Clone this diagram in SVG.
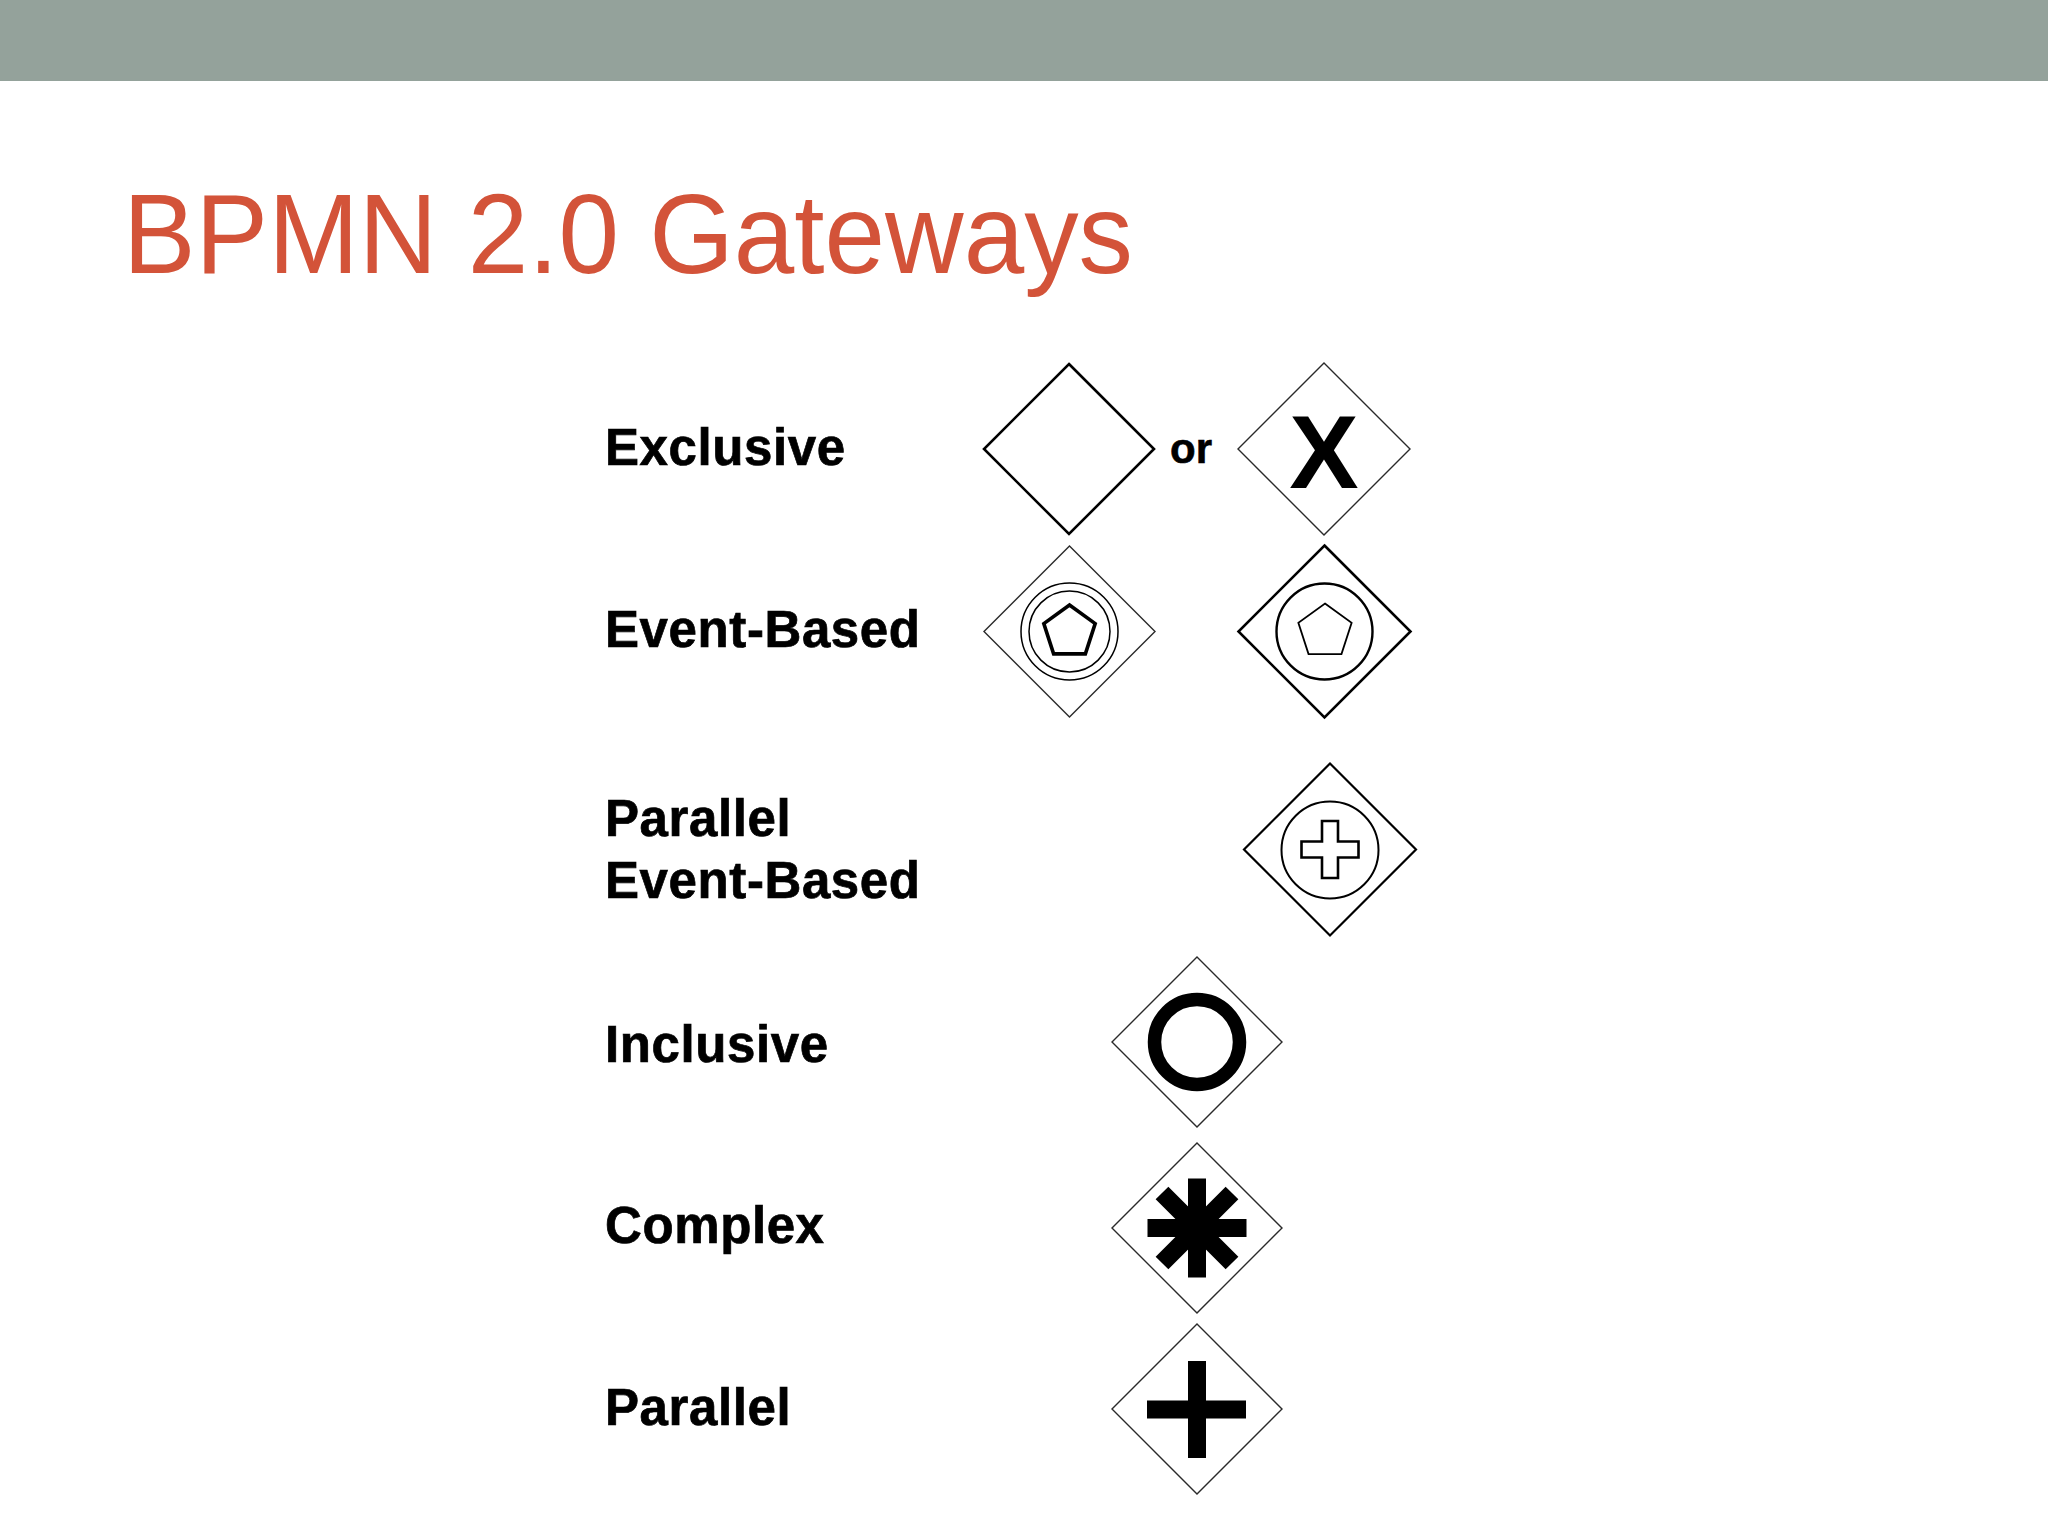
<svg xmlns="http://www.w3.org/2000/svg" width="2048" height="1536" viewBox="0 0 2048 1536">
  <style>
    .lbl { font-family: "Liberation Sans", Arial, Helvetica, sans-serif; font-weight: bold; font-size: 51px; letter-spacing: 0.6px; fill: #000; stroke: #000; stroke-width: 0.7; }
    .thin { fill: #fff; stroke: #2a2a2a; stroke-width: 1.4; }
    .thick { fill: #fff; stroke: #000; stroke-width: 2.6; }
    .ln { fill: none; stroke: #000; }
    .bar { fill: none; stroke: #000; stroke-width: 18; stroke-linecap: butt; }
  </style>
  <rect x="0" y="0" width="2048" height="1536" fill="#ffffff"/>
  <rect id="band" x="0" y="0" width="2048" height="81" fill="#94A29B"/>
  <text id="title" x="123" y="273" font-family="'Liberation Sans', Arial, Helvetica, sans-serif" font-size="114" fill="#D35339" textLength="1010" lengthAdjust="spacingAndGlyphs">BPMN 2.0 Gateways</text>

  <g id="labels">
    <text class="lbl" x="605" y="465">Exclusive</text>
    <text class="lbl" x="605" y="647">Event-Based</text>
    <text class="lbl" x="605" y="836">Parallel</text>
    <text class="lbl" x="605" y="898">Event-Based</text>
    <text class="lbl" x="605" y="1062">Inclusive</text>
    <text class="lbl" x="605" y="1243">Complex</text>
    <text class="lbl" x="605" y="1425">Parallel</text>
  </g>

  <g id="exclusive-plain">
    <polygon class="thick" points="1069,364 1154,449 1069,534 984,449"/>
  </g>
  <text id="or" x="1170" y="463" font-family="'Liberation Sans', Arial, sans-serif" font-weight="bold" font-size="42" fill="#000" stroke="#000" stroke-width="0.6">or</text>
  <g id="exclusive-x">
    <polygon class="thin" points="1324,363 1410,449 1324,535 1238,449"/>
    <text x="1324" y="488" text-anchor="middle" font-family="'Liberation Sans', Arial, sans-serif" font-weight="bold" font-size="104" fill="#000">X</text>
  </g>

  <g id="event-based-1">
    <polygon class="thin" points="1069.5,546 1155,631.5 1069.5,717 984,631.5"/>
    <circle class="ln" cx="1069.5" cy="631.5" r="48.5" stroke-width="1.5"/>
    <circle class="ln" cx="1069.5" cy="631.5" r="40.5" stroke-width="1.5"/>
    <polygon class="ln" stroke-width="3.6" stroke-linejoin="miter" points="1069.5,605 1095.18,623.66 1085.37,653.84 1053.63,653.84 1043.82,623.66"/>
  </g>

  <g id="event-based-2">
    <polygon class="thick" points="1324.5,545.5 1410.5,631.5 1324.5,717.5 1238.5,631.5"/>
    <circle class="ln" cx="1324.5" cy="631.5" r="48" stroke-width="2.4"/>
    <polygon class="ln" stroke-width="1.8" points="1325,603.5 1351.63,622.85 1341.46,654.15 1308.54,654.15 1298.37,622.85"/>
  </g>

  <g id="parallel-event-based">
    <polygon class="ln" fill="#fff" stroke-width="2.2" points="1330,763.5 1416,849.5 1330,935.5 1244,849.5"/>
    <circle class="ln" cx="1330" cy="850" r="48.5" stroke-width="2"/>
    <path class="ln" stroke-width="2.6" d="M1322,821 H1338 V841.5 H1358.5 V857.5 H1338 V878 H1322 V857.5 H1301.5 V841.5 H1322 Z"/>
  </g>

  <g id="inclusive">
    <polygon class="thin" points="1197,957 1282,1042 1197,1127 1112,1042"/>
    <circle class="ln" cx="1197" cy="1042" r="42.5" stroke-width="13.5"/>
  </g>

  <g id="complex">
    <polygon class="thin" points="1197,1143 1282,1228 1197,1313 1112,1228"/>
    <path class="bar" d="M1197,1178.5 V1277.5 M1147.5,1228 H1246.5 M1162,1193 L1232,1263 M1232,1193 L1162,1263"/>
  </g>

  <g id="parallel">
    <polygon class="thin" points="1197,1324 1282,1409 1197,1494 1112,1409"/>
    <path class="bar" d="M1197,1361 V1458 M1147,1409.5 H1246"/>
  </g>

  <g id="connectors"/>
</svg>
